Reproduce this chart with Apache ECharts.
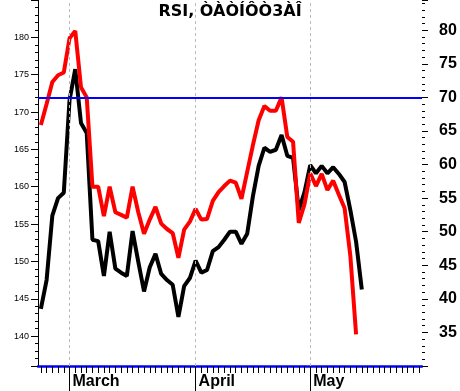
<!DOCTYPE html>
<html>
<head>
<meta charset="utf-8">
<script src="https://cdn.jsdelivr.net/npm/echarts@6/dist/echarts.min.js"></script>
<style>html,body{margin:0;padding:0;background:#fff;}#c{width:460px;height:391px;}</style>
</head>
<body>
<div id="c"></div>
<script>
const titleText = 'RSI, ÒÀÒÍÔÒ3ÀÎ';
const dayCount = 67;
const monthStarts = {5: 'March', 27: 'April', 47: 'May'};
const categories = Array.from({length: dayCount}, (_, i) => monthStarts[i] || ('d' + i));
const monthNames = ['March', 'April', 'May'];

const redValues = [65.9, 69.0, 72.3, 73.3, 73.7, 78.8, 79.9, 71.5, 70.0, 56.7,
  56.7, 52.3, 56.7, 52.9, 52.5, 52.1, 56.7, 52.9, 49.7, 51.8,
  53.7, 51.2, 50.4, 49.8, 46.1, 50.3, 51.5, 53.4, 51.8, 51.9,
  54.6, 55.9, 56.8, 57.6, 57.3, 54.9, 58.9, 62.9, 66.6, 68.7,
  68.0, 68.0, 70.0, 64.1, 63.4, 51.3, 54.1, 58.7, 56.8, 58.6,
  56.2, 57.6, 55.5, 53.5, 46.4, 34.7];
const blackValues = [38.5, 42.8, 52.4, 55.0, 55.8, 69.6, 74.2, 66.2, 64.7, 48.8,
  48.6, 43.4, 50.0, 44.5, 43.9, 43.4, 50.1, 45.5, 41.1, 44.7,
  46.7, 43.7, 42.8, 42.1, 37.3, 41.9, 43.1, 45.7, 43.9, 44.3,
  47.1, 47.7, 48.8, 50.0, 50.0, 48.2, 49.7, 55.3, 59.8, 62.5,
  61.9, 62.2, 64.4, 61.3, 61.0, 53.2, 55.9, 59.9, 58.7, 59.8,
  58.7, 59.6, 58.6, 57.4, 53.2, 48.5, 41.4];
const levelLine = 70;

const chart = echarts.init(document.getElementById('c'), null, {renderer: 'canvas'});
const isMonth = (i) => monthStarts[i] !== undefined;
chart.setOption({
  animation: false,
  backgroundColor: '#ffffff',
  title: {
    text: titleText, left: 'center', top: 4, padding: 0,
    textStyle: {fontFamily: 'DejaVu Sans', fontWeight: 'bold', fontSize: 16, color: '#000'}
  },
  grid: {left: 38, right: 38, top: 0, bottom: 25, containLabel: false},
  xAxis: [{
    type: 'category', data: categories, boundaryGap: true,
    axisLine: {show: true, lineStyle: {color: '#0000ff', width: 2.5}},
    axisTick: {show: true, alignWithLabel: true, interval: 0, length: 7, lineStyle: {color: '#000', width: 1}},
    axisLabel: {
      show: true, interval: (i) => isMonth(i), formatter: (v) => monthNames.includes(v) ? v : '',
      align: 'left', padding: [0, 0, 0, 3], margin: 8,
      fontFamily: 'Liberation Sans', fontWeight: 'bold', fontSize: 16, color: '#000'
    },
    splitLine: {show: false}
  }, {
    type: 'category', data: categories, boundaryGap: true, position: 'bottom',
    axisLine: {show: false},
    axisTick: {show: true, alignWithLabel: true, interval: (i) => isMonth(i), length: 25, lineStyle: {color: '#000', width: 1}},
    axisLabel: {show: false}, splitLine: {show: false}
  }],
  yAxis: [{
    type: 'value', position: 'left', min: 136, max: 185, splitNumber: 10,
    axisLine: {show: true, lineStyle: {color: '#000', width: 1}},
    axisTick: {show: true, length: 7, lineStyle: {color: '#000'}},
    minorTick: {show: true, splitNumber: 5, length: 3, lineStyle: {color: '#000'}},
    axisLabel: {
      margin: 9, fontFamily: 'Liberation Sans', fontSize: 9, color: '#000',
      formatter: (v) => (v % 5 === 0 && v >= 140 && v <= 180) ? String(v) : ''
    },
    splitLine: {show: false}
  }, {
    type: 'value', position: 'right', min: 30, max: 84.5, interval: 5,
    axisLine: {show: false},
    axisTick: {show: true, length: 6, lineStyle: {color: '#000'}},
    minorTick: {show: true, splitNumber: 5, length: 3, lineStyle: {color: '#000'}},
    axisLabel: {
      margin: 17, fontFamily: 'Liberation Sans', fontWeight: 'bold', fontSize: 16, color: '#000',
      formatter: (v) => (v % 5 === 0 && v >= 35 && v <= 80) ? String(v) : ''
    },
    splitLine: {show: false}
  }],
  series: [{
    type: 'line', xAxisIndex: 0, yAxisIndex: 1, data: [], z: 1, silent: true,
    markLine: {
      silent: true, symbol: 'none', label: {show: false},
      data: [
        {xAxis: 'March', lineStyle: {color: '#bbbbbb', type: [3, 3], width: 1}},
        {xAxis: 'April', lineStyle: {color: '#bbbbbb', type: [3, 3], width: 1}},
        {xAxis: 'May', lineStyle: {color: '#bbbbbb', type: [3, 3], width: 1}},
        {yAxis: levelLine, lineStyle: {color: '#0000ff', type: 'solid', width: 2}}
      ]
    }
  }, {
    name: 'black', type: 'line', xAxisIndex: 0, yAxisIndex: 1, data: blackValues, z: 3,
    symbol: 'none', lineStyle: {color: '#000000', width: 4}, silent: true
  }, {
    name: 'red', type: 'line', xAxisIndex: 0, yAxisIndex: 1, data: redValues, z: 4,
    symbol: 'none', lineStyle: {color: '#ff0000', width: 4}, silent: true
  }]
});
</script>
</body>
</html>
